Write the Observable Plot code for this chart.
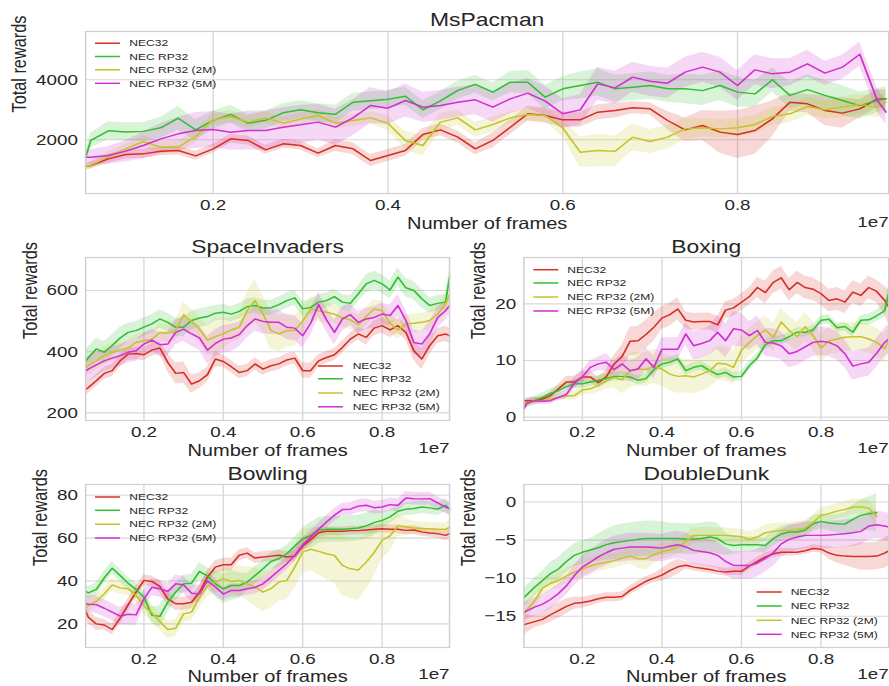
<!DOCTYPE html>
<html><head><meta charset="utf-8">
<script src="https://cdn.jsdelivr.net/npm/d3@7"></script>
<script src="https://cdn.jsdelivr.net/npm/@observablehq/plot@0.6"></script>
<style>
body{margin:0;background:#fff;}
#fig{position:relative;width:723px;height:686px;transform:scaleX(1.23);transform-origin:0 0;font-family:"Liberation Sans",Arial,Helvetica,sans-serif;color:#262626;overflow:visible;}
.panel{position:absolute;}
.lt{position:absolute;font-size:9.8px;line-height:9.8px;white-space:nowrap;color:#262626;}
#legsvg{position:absolute;left:0;top:0;pointer-events:none;}
</style></head><body><div id="fig"></div>
<script>
const seriesNames = ["NEC32", "NEC RP32", "NEC RP32 (2M)", "NEC RP32 (5M)"];
const seriesColors = ["#d62f27", "#30c030", "#c4c42b", "#d12fd1"];
const xTicks = [0.2, 0.4, 0.6, 0.8];
const frames = [0.054,0.06,0.08,0.10,0.12,0.14,0.16,0.18,0.20,0.22,0.24,0.26,0.28,0.30,0.32,0.34,0.36,0.38,0.40,0.42,0.44,0.46,0.48,0.50,
  0.52,0.54,0.56,0.58,0.60,0.62,0.64,0.66,0.68,0.70,0.72,0.74,0.76,0.78,0.80,0.82,0.84,0.86,0.88,0.90,0.92,0.94,0.96,0.97];

// ---- MsPacman ----
const msYTicks = [2000, 4000];
const msNEC32 = [1110,1143,1366,1510,1532,1621,1643,1466,1699,2032,1977,1666,1866,1810,1555,1810,1699,1310,1477,1643,2177,2332,2088,1699,
  1977,2421,2866,2810,2666,2666,2921,2977,3066,3032,2643,2332,2477,2255,2177,2310,2699,3254,3199,2977,2888,3032,3365,3365];
const msRP32 = [1420,1980,2300,2260,2280,2400,2720,2330,2650,2850,2550,2650,2900,3000,2900,2850,3250,3300,3350,3450,3000,3300,3650,3850,
  3590,3920,3920,3420,3700,3810,3920,3700,3750,3810,3700,3700,3640,3810,3590,3530,4000,3480,3670,3480,3310,3140,3310,3365];
const msRP32_2M = [1110,1143,1443,1699,1943,1754,1754,2110,2666,2777,2588,2732,2554,2688,2810,2554,2643,2732,2554,1977,1810,2588,2732,2332,
  2510,2732,2843,2810,2399,1588,1643,1621,2088,1943,2088,2365,2399,2365,2399,2510,2777,2866,3110,2999,3088,3177,3088,3254];
const msRP32_5M = [1421,1421,1477,1621,1810,2032,2199,2310,2343,2254,2310,2310,2421,2499,2588,2421,2732,3143,3054,3310,3088,3143,3254,3332,
  3088,3365,3554,3288,2866,2999,3865,3732,4088,3954,3888,4254,4421,4254,3810,4332,4199,4254,4532,4221,4421,4850,3310,2921];
const msNEC32Sd = [100,120,150,150,150,150,150,150,150,150,150,150,150,150,150,200,200,200,200,200,200,200,200,200,
  250,250,250,250,250,250,250,250,200,200,300,400,500,700,800,800,600,300,300,500,500,300,300,300];
const msRP32Sd = [150,250,300,300,300,350,400,350,300,300,300,300,300,300,300,300,300,300,300,300,300,300,300,300,
  300,350,400,400,400,450,450,450,450,450,450,500,500,500,500,450,400,450,500,500,500,450,400,400];
const msRP32_2MSd = [100,120,150,150,200,200,200,200,200,200,200,200,200,200,200,200,200,200,250,300,350,300,250,250,
  250,200,200,200,300,500,550,500,450,400,400,350,300,300,300,300,300,300,300,300,350,350,350,350];
const msRP32_5MSd = [200,250,300,350,450,500,550,600,600,600,650,650,650,650,600,600,600,600,550,550,500,500,500,500,
  500,500,500,500,500,500,550,550,500,500,500,500,500,500,500,500,500,450,450,400,400,400,400,400];

// ---- SpaceInvaders ----
const siYTicks = [200, 400, 600];
const siNEC32 = [277,283,305,329,338,370,392,394,390,405,412,365,329,332,294,305,325,376,368,351,332,338,360,343,
  354,360,373,379,338,338,370,381,390,414,441,458,447,477,485,471,485,463,403,376,420,452,458,452];
const siRP32 = [370,381,409,398,420,445,463,469,480,491,507,496,480,480,502,510,515,526,529,523,532,547,551,543,
  543,554,567,576,540,545,562,567,580,562,558,589,622,633,622,602,644,609,600,573,551,558,562,644];
const siRP32_2M = [348,354,370,387,398,405,412,430,436,441,463,460,469,521,499,474,438,449,458,471,480,534,567,523,
  469,458,469,469,501,540,534,529,523,510,504,488,515,540,534,493,471,491,493,496,502,523,556,589];
const siRP32_5M = [338,343,357,370,379,387,398,403,425,438,423,425,463,474,458,445,405,427,441,445,456,485,507,499,
  496,496,480,477,452,493,554,504,463,507,521,496,507,512,523,518,551,502,430,425,458,512,534,551];
const siNEC32Sd = [20,20,20,20,20,20,20,20,20,20,20,30,35,35,30,25,25,25,20,20,20,20,20,20,
  20,20,20,20,25,25,20,20,20,20,20,20,25,25,25,25,25,25,30,35,30,25,25,25];
const siRP32Sd = [35,35,35,35,35,35,30,30,30,30,30,30,30,30,30,30,30,25,25,25,25,25,25,25,
  25,25,25,25,25,25,25,25,25,25,25,25,30,30,30,30,30,30,30,30,25,25,25,25];
const siRP32_2MSd = [30,30,30,30,30,25,25,25,25,25,30,30,35,40,40,40,50,60,50,40,40,60,70,60,
  60,60,55,50,40,40,35,35,30,30,30,30,30,30,30,30,30,30,30,30,30,30,30,30];
const siRP32_5MSd = [40,40,40,35,35,35,35,35,35,35,40,40,40,40,40,40,45,45,45,45,40,40,40,40,
  40,40,40,40,40,40,40,40,40,40,35,35,35,35,35,35,35,35,40,40,40,35,30,30];

// ---- Boxing ----
const bxYTicks = [0, 10, 20];
const bxNEC32 = [2.9,2.9,2.9,3.2,3.8,5.0,6.2,6.2,7.1,7.1,6.1,7.1,9.4,10.7,13.4,13.5,14.6,15.9,17.5,18.1,19.1,17.1,16.8,16.9,
  16.9,16.3,18.9,19.3,20.3,21.3,22.9,22.0,23.8,24.6,22.5,23.8,22.9,22.6,21.8,20.6,20.9,20.3,22.1,21.5,22.9,22.2,20.6,19.5];
const bxRP32 = [1.8,2.4,2.9,3.5,4.2,4.7,5.4,5.9,5.9,6.2,6.5,6.8,7.2,7.2,7.1,6.5,6.8,8.4,9.4,9.7,10.3,8.2,8.8,9.1,
  8.2,7.5,7.9,7.1,7.2,9.1,10.5,12.8,13.5,13.5,14.2,15.0,15.0,15.4,17.1,17.3,15.8,16.0,15.0,17.1,17.2,17.9,18.8,21.8];
const bxRP32_2M = [2.4,2.5,2.9,2.9,3.2,3.5,3.7,3.8,4.8,5.0,5.6,6.4,7.0,6.6,8.2,8.5,8.4,9.0,8.5,7.6,7.2,7.3,7.1,7.6,
  8.2,9.5,9.4,8.8,11.8,13.2,14.4,15.4,14.1,16.8,15.3,14.2,16.0,14.4,12.2,13.5,13.8,14.1,14.2,14.2,13.8,13.2,12.1,13.5];
const bxRP32_5M = [1.5,2.4,2.9,2.8,2.9,3.5,4.0,6.0,7.1,8.8,9.4,9.7,8.4,9.4,8.2,8.5,10.3,8.8,12.0,12.0,12.0,14.7,12.6,13.0,
  13.5,15.0,13.5,15.6,15.4,14.4,15.3,13.2,13.1,12.6,11.2,11.6,12.4,13.2,13.4,13.2,12.6,11.2,9.0,9.4,9.7,11.3,13.2,13.8];
const bxNEC32Sd = [0.5,0.5,0.5,0.5,0.6,0.8,1,1,1,1,1,1.2,1.5,2,2.5,2.5,2.5,2.5,2,2,2,1.5,1.5,1.5,
  1.5,1.5,1.5,1.5,1.5,1.5,1.8,2,2,2,2,2,2,2,2,2,2,2,2,2,2,2,2.5,3];
const bxRP32Sd = [0.8,0.8,0.8,0.8,0.8,0.8,0.8,0.8,0.8,0.8,0.8,0.8,0.8,0.8,0.8,0.8,0.8,0.8,0.8,0.8,0.8,0.8,0.8,0.8,
  0.8,0.8,0.8,0.8,0.8,0.8,0.8,0.8,0.8,0.8,0.8,0.8,0.8,0.8,0.8,0.8,0.8,0.8,0.8,0.8,1,1,1.2,1.5];
const bxRP32_2MSd = [0.5,0.5,0.5,0.5,0.5,0.5,0.6,0.8,1,1,1.2,1.5,1.8,2.5,3,3,3,3,3,3,3,3,3,3,
  3,3,3,3,2.5,2.5,2.5,2.5,2.5,2.5,2.5,2.5,2.5,2.5,2.5,2.5,2.5,2.5,2.5,2.5,2.5,2.5,2.5,2.5];
const bxRP32_5MSd = [0.6,0.6,0.6,0.6,0.6,0.6,0.8,1,1.2,1.2,1.2,1.5,1.5,1.8,1.8,2,2,2,2,2,2,2,2.5,2.5,
  2.5,3,3,3,3,2.5,2.5,2.5,2.5,2.5,2.5,2.5,2.5,2.5,2.5,2.5,2.5,2.5,2.5,2.5,2.5,2.5,2.5,2.5];

// ---- Bowling ----
const bwYTicks = [20, 40, 60, 80];
const bwNEC32 = [25.5,23.1,20.0,19.5,17.4,22.7,28.9,34.8,40.3,39.8,37.5,31.7,29.4,29.4,30.1,34.8,41.8,46.5,47.6,47.6,52.0,53.0,50.7,51.2,
  51.6,52.0,51.2,51.6,56.3,59.3,62.5,63.2,63.2,63.2,63.5,63.5,63.8,64.1,64.4,64.1,64.1,63.6,63.8,62.9,62.4,62.1,61.3,62.1];
const bwRP32 = [35.1,34.5,36.1,41.5,46.0,42.6,39.0,36.1,32.5,24.0,23.5,30.1,34.8,38.7,39.0,44.5,42.3,38.7,36.4,37.9,37.9,39.5,42.6,45.7,
  49.1,50.4,52.7,56.3,59.7,61.3,63.6,64.1,64.1,64.1,64.4,64.7,65.7,67.2,68.3,69.9,72.5,73.5,73.8,74.5,74.1,73.5,75.3,73.5];
const bwRP32_2M = [27.8,28.6,30.5,34.0,38.2,36.8,36.4,33.3,28.3,25.2,21.1,17.4,18.0,24.7,25.5,32.5,37.6,39.5,41.1,39.8,40.3,38.7,37.2,34.8,
  36.4,39.5,40.3,46.5,53.5,54.8,53.8,52.7,51.9,47.3,45.7,45.1,48.8,53.2,59.0,61.0,65.7,65.2,64.7,64.4,64.4,64.1,64.1,65.2];
const bwRP32_5M = [29.4,29.2,29.0,27.3,25.5,23.6,24.5,24.2,31.7,37.1,36.4,35.1,38.7,38.2,34.3,34.0,40.0,37.2,33.9,35.6,35.6,36.4,37.0,38.7,
  41.7,44.9,48.1,52.0,56.9,60.5,64.1,67.5,70.7,73.3,73.5,74.9,75.3,74.2,74.5,75.6,75.3,78.7,78.4,78.3,78.4,76.4,74.5,73.8];
const bwNEC32Sd = [3,3,3,2.5,2.5,3,3,3,2.5,2.5,3,3,3,3,3,3,3,3,3,3,2.5,2.5,2.5,2.5,
  2.5,2.5,2.5,2.5,2.5,2.5,2.5,2,2,2,2,2,2,2,2,2,2,2,2,2,2,2,2.5,2.5];
const bwRP32Sd = [3,3,3,3,3,3,3,3,3,4,5,5,4,4,4,4,4,6,7,7,6,4,4,4,
  4,4,4,4,5,6,6,6,6,6,6,6,6,6,4,3,3,3,3,3,3,3,3,3];
const bwRP32_2MSd = [3,3,3,3,3,3,3,3,4,4,4,4,4,4,4,5,5,5,5,6,7,8,9,9,
  9,9,9,10,10,10,11,12,13,14,14,14,13,11,9,7,5,4,3,3,3,3,3,3];
const bwRP32_5MSd = [4,4,4,4,4,4,5,5,4,4,4,4,4,4,4,4,4,4,3,3,3,3,3,3,
  3,3,3,3,3,3,3,3,3,3,3,3,3,3,3,3,3,3,3,3,3,3,3,3];

// ---- DoubleDunk ----
const ddYTicks = [-15, -10, -5, 0];
const ddNEC32 = [-16.1,-16.0,-15.7,-15.4,-14.8,-14.25,-13.7,-13.3,-13.2,-13.0,-12.7,-12.5,-12.5,-12.4,-11.6,-11.0,-10.4,-10.0,-9.6,-9.0,-8.5,-8.3,-8.55,-8.7,
  -8.85,-9.07,-9.2,-9.1,-9.1,-8.4,-7.8,-7.2,-6.8,-6.6,-6.6,-6.6,-6.4,-6.1,-6.2,-6.7,-7.0,-7.1,-7.15,-7.15,-7.15,-7.1,-6.7,-6.4];
const ddRP32 = [-12.5,-12.2,-11.2,-10.3,-9.4,-8.8,-7.8,-7.0,-6.6,-6.3,-6.0,-5.6,-5.35,-5.2,-5.04,-4.9,-4.8,-4.8,-4.8,-4.8,-4.8,-4.86,-4.9,-4.8,
  -4.6,-4.8,-5.5,-5.7,-5.6,-5.6,-5.6,-5.7,-4.8,-4.2,-3.94,-3.94,-3.7,-2.85,-2.54,-2.76,-2.85,-2.9,-2.27,-1.75,-1.53,-1.4,null,null];
const ddRP32_2M = [-14.5,-14.2,-13.0,-11.3,-10.7,-10.3,-9.7,-9.2,-8.8,-8.4,-8.1,-7.9,-7.7,-7.4,-7.1,-7.45,-7.45,-6.9,-6.5,-6.3,-5.9,-5.2,-4.38,-4.38,
  -4.38,-4.38,-4.38,-4.47,-4.56,-4.9,-4.6,-4.03,-3.85,-3.72,-3.72,-3.6,-3.42,-2.7,-1.75,-1.53,-1.2,-0.96,-0.65,-0.65,-0.8,-1.9,null,null];
const ddRP32_5M = [-14.5,-14.3,-13.8,-13.4,-12.8,-12.0,-11.0,-9.65,-8.55,-7.9,-7.2,-6.66,-6.2,-6.05,-5.9,-5.9,-5.9,-5.96,-6.05,-5.8,-5.6,-5.9,-6.35,-6.5,
  -6.66,-7.0,-7.8,-8.33,-8.33,-8.33,-8.0,-7.4,-6.66,-5.5,-4.9,-4.6,-4.38,-4.38,-4.38,-4.34,-4.25,-4.16,-4.03,-3.85,-3.15,-2.98,-3.15,-3.3];
const ddNEC32Sd = [1.5,1.2,0.8,0.8,1,1,1,0.8,0.7,0.7,0.6,0.6,0.6,0.6,0.6,0.6,0.6,0.6,0.8,1,1,0.5,0.5,0.5,
  0.5,0.5,0.5,0.5,0.5,0.5,0.5,0.5,0.5,0.5,0.5,0.5,0.5,0.5,0.5,0.8,1,1.2,1.5,1.8,1.8,1.8,2,2];
const ddRP32Sd = [1.2,1.2,1.2,1.2,1.5,1.5,1.5,1.5,1.5,1.5,1.8,2,2.2,2.3,2.3,2.3,2.3,2.3,2.2,2,2,2,2,2,
  2,2,1.5,1.2,1,1,1,1,1,1,1,1,1,1,1,1,1.2,1.5,1.8,2,2.2,2.5,null,null];
const ddRP32_2MSd = [1.5,1.2,1,1,1,1,1,1,1,1,1,1,1,1,1,1.2,1.5,1.2,1,1,1,1,1,1,
  1,1,1,1,1,1,1,1,1,1,1,1,1,1,1,1,1,1,1,1,1,1,null,null];
const ddRP32_5MSd = [1.2,1.2,1.2,1.2,1.2,1.2,1.2,1.3,1.5,1.6,1.6,1.7,1.7,1.8,1.8,1.8,1.8,1.8,1.8,1.8,1.8,1.8,1.8,1.8,
  1.8,1.8,1.8,1.8,1.8,1.8,1.8,1.8,1.8,1.8,1.8,1.8,1.8,1.8,1.8,1.8,1.8,1.8,1.8,1.8,1.8,1.8,1.8,1.8];

// ---------------- drawing ----------------
const FONT = '"Liberation Sans", Arial, Helvetica, sans-serif';
const INK = "#262626";
const GRID = "#d8d8d8";
const fig = document.getElementById("fig");
const legSvg = d3.create("svg").attr("id", "legsvg").attr("width", 723).attr("height", 686);

function rowsOf(means, spreads) {
  const rows = [];
  means.forEach((m, s) => m.forEach((v, i) => {
    if (v == null) return;
    const sd = spreads[s][i] ?? 0;
    rows.push({x: frames[i], y: v, lo: v - sd, hi: v + sd, s: seriesNames[s]});
  }));
  return rows;
}

function panel(p) {
  const rows = rowsOf(p.means, p.spreads);
  const chart = Plot.plot({
    width: p.w, height: p.h,
    marginLeft: p.ml, marginRight: p.mr, marginTop: p.mt, marginBottom: p.mb,
    style: {fontFamily: FONT, fontSize: "15.3px", color: INK, background: "none", overflow: "visible"},
    x: {domain: p.xDomain, ticks: xTicks, tickSize: 0, tickPadding: 5.3, label: null, tickFormat: d => d.toFixed(1)},
    y: {domain: p.yDomain, ticks: p.yTicks, tickSize: 0, tickPadding: 6.3, label: null, tickFormat: d3.format("d")},
    color: {domain: seriesNames, range: seriesColors},
    marks: [
      Plot.ruleX(xTicks, {x: d => d, stroke: GRID, strokeWidth: 1.1}),
      Plot.ruleY(p.yTicks, {y: d => d, stroke: GRID, strokeWidth: 1.1}),
      Plot.areaY(rows, {x: "x", y1: "lo", y2: "hi", z: "s", fill: "s", fillOpacity: 0.19}),
      Plot.lineY(rows, {x: "x", y: "y", z: "s", stroke: "s", strokeWidth: 1.45}),
      Plot.frame({stroke: "#cfcfcf", strokeWidth: 1.2}),
      Plot.text([p.title], {text: d => d, frameAnchor: "top", lineAnchor: "middle", dy: p.titleDy, fontSize: 18.6, fill: INK}),
      Plot.text(["Number of frames"], {text: d => d, frameAnchor: "bottom", lineAnchor: "middle", dy: p.xlDy, fontSize: 16.3, fill: INK}),
      Plot.text(["1e7"], {text: d => d, frameAnchor: "bottom-right", textAnchor: "end", lineAnchor: "middle", dy: p.expDy, fontSize: 15.3, fill: INK}),
      Plot.text(["Total rewards"], {text: d => d, frameAnchor: "left", rotate: -90, lineAnchor: "middle", dx: -p.ylDx, fontSize: 16.3, fill: INK})
    ]
  });
  chart.classList.add("panel");
  chart.style.left = p.left + "px";
  chart.style.top = p.top + "px";
  fig.appendChild(chart);

  // legend (inside plot area, matplotlib style)
  p.legend.rows.forEach((ry, k) => {
    legSvg.append("line")
      .attr("x1", p.legend.lineX).attr("x2", p.legend.lineX + 20.3)
      .attr("y1", ry).attr("y2", ry)
      .attr("stroke", seriesColors[k]).attr("stroke-width", 1.5);
    const t = document.createElement("div");
    t.className = "lt";
    t.style.left = p.legend.textX + "px";
    t.style.top = (ry - 4.8) + "px";
    t.textContent = seriesNames[k];
    fig.appendChild(t);
  });
}

panel({title: "MsPacman", left: 0, top: 0, w: 723, h: 240, ml: 69.1, mr: 1, mt: 31, mb: 47,
  xDomain: [0.054, 0.973], yDomain: [210, 5610], yTicks: msYTicks,
  means: [msNEC32, msRP32, msRP32_2M, msRP32_5M], spreads: [msNEC32Sd, msRP32Sd, msRP32_2MSd, msRP32_5MSd],
  titleDy: -11.6, xlDy: 30, expDy: 28.5, ylDx: 53.5,
  legend: {lineX: 77.2, textX: 105.1, rows: [43.2, 56.5, 69.8, 83.3]}});

panel({title: "SpaceInvaders", left: 0, top: 228, w: 370, h: 232, ml: 69.1, mr: 5, mt: 29, mb: 40,
  xDomain: [0.053, 0.970], yDomain: [175, 708], yTicks: siYTicks,
  means: [siNEC32, siRP32, siRP32_2M, siRP32_5M], spreads: [siNEC32Sd, siRP32Sd, siRP32_2MSd, siRP32_5MSd],
  titleDy: -10.7, xlDy: 30, expDy: 28, ylDx: 45.1,
  legend: {lineX: 258.5, textX: 286.7, rows: [366, 378.8, 393, 406.8]}});

panel({title: "Boxing", left: 360, top: 228, w: 363, h: 232, ml: 65.4, mr: 1, mt: 29, mb: 40,
  xDomain: [0.053, 0.970], yDomain: [-0.6, 28.2], yTicks: bxYTicks,
  means: [bxNEC32, bxRP32, bxRP32_2M, bxRP32_5M], spreads: [bxNEC32Sd, bxRP32Sd, bxRP32_2MSd, bxRP32_5MSd],
  titleDy: -10.7, xlDy: 30, expDy: 28, ylDx: 36.6,
  legend: {lineX: 433.6, textX: 461.2, rows: [269.7, 283, 297, 311]}});

panel({title: "Bowling", left: 0, top: 456, w: 370, h: 230, ml: 69.1, mr: 5, mt: 28, mb: 39,
  xDomain: [0.053, 0.970], yDomain: [9, 85], yTicks: bwYTicks,
  means: [bwNEC32, bwRP32, bwRP32_2M, bwRP32_5M], spreads: [bwNEC32Sd, bwRP32Sd, bwRP32_2MSd, bwRP32_5MSd],
  titleDy: -10.2, xlDy: 28.8, expDy: 26.5, ylDx: 36.3,
  legend: {lineX: 77.2, textX: 105.1, rows: [497, 510.3, 524.2, 538]}});

panel({title: "DoubleDunk", left: 360, top: 456, w: 363, h: 230, ml: 65.4, mr: 1, mt: 28, mb: 39,
  xDomain: [0.053, 0.970], yDomain: [-19.1, 2.3], yTicks: ddYTicks,
  means: [ddNEC32, ddRP32, ddRP32_2M, ddRP32_5M], spreads: [ddNEC32Sd, ddRP32Sd, ddRP32_2MSd, ddRP32_5MSd],
  titleDy: -10.2, xlDy: 28.8, expDy: 26.5, ylDx: 45,
  legend: {lineX: 615.2, textX: 642.8, rows: [592, 606, 620.3, 634.3]}});

fig.appendChild(legSvg.node());
</script>
</body></html>
